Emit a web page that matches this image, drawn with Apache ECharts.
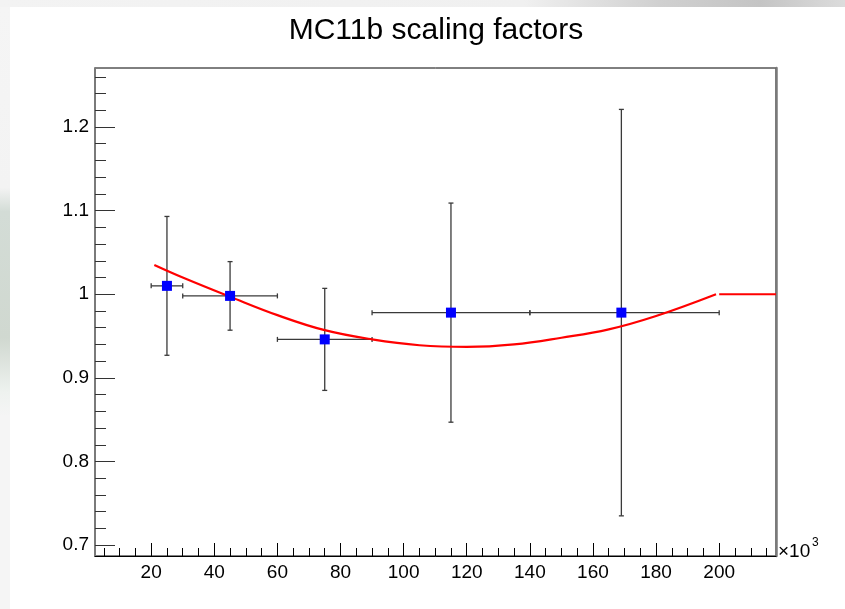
<!DOCTYPE html>
<html>
<head>
<meta charset="utf-8">
<script src="https://cdn.jsdelivr.net/npm/echarts@6.0.0/dist/echarts.min.js"></script>
<style>html,body{margin:0;padding:0;background:#fff;}#c{width:845px;height:609px;}</style>
</head>
<body>
<div id="c"></div>
<script>
// ---- data ----
const titleText = 'MC11b scaling factors';
const axisExpBase = '×10';
const axisExpPow = '3';
const xVals  = [25, 45, 75, 115, 169];
const yVals  = [1.010, 0.998, 0.946, 0.978, 0.978];
const xLow   = [20, 30, 60, 90, 140];
const xHigh  = [30, 60, 90, 140, 200];
const yErr   = [0.083, 0.041, 0.061, 0.131, 0.243];

const fitX = [21, 30, 45, 60, 75, 90, 105, 120, 135, 150, 165, 180, 199];
const fitY = [1.035, 1.020, 0.997, 0.975, 0.957, 0.946, 0.939, 0.937, 0.940, 0.948, 0.958, 0.974, 1.000];
const flatX = [200, 218];
const flatY = [1.000, 1.000];

const xMajor = [20, 40, 60, 80, 100, 120, 140, 160, 180, 200];
const xMinor = [5,10,15,25,30,35,45,50,55,65,70,75,85,90,95,105,110,115,125,130,135,145,150,155,165,170,175,185,190,195,205,210,215];
const yMajor = [0.7, 0.8, 0.9, 1.0, 1.1, 1.2];
const yMinor = [0.72,0.74,0.76,0.78,0.82,0.84,0.86,0.88,0.92,0.94,0.96,0.98,1.02,1.04,1.06,1.08,1.12,1.14,1.16,1.18,1.22,1.24,1.26];

// ---- build ----
const pts = xVals.map((x, i) => [x, yVals[i]]);
const errData = xVals.map((x, i) => [x, yVals[i], xLow[i], xHigh[i], yVals[i] - yErr[i], yVals[i] + yErr[i]]);
const fitData = fitX.map((x, i) => [x, fitY[i]]);
const flatData = flatX.map((x, i) => [x, flatY[i]]);

const FONT = '"Liberation Sans", Arial, Helvetica, sans-serif';
const XMIN = 2.2, XMAX = 218, YMIN = 0.687, YMAX = 1.2705;

const chart = echarts.init(document.getElementById('c'), null, {renderer: 'canvas'});
chart.setOption({
  animation: false,
  backgroundColor: '#ffffff',
  title: {
    text: titleText, left: 431, top: 11, textAlign: 'center',
    textStyle: {fontFamily: FONT, fontSize: 30, fontWeight: 'normal', color: '#000'}
  },
  graphic: [
    {type: 'rect', z: -10, shape: {x: 0, y: 0, width: 845, height: 7},
     style: {fill: new echarts.graphic.LinearGradient(0, 0, 1, 0, [
       {offset: 0, color: '#f3f3f3'}, {offset: 0.62, color: '#f0f0f0'},
       {offset: 0.78, color: '#d0d0d0'}, {offset: 0.9, color: '#c4c4c4'}, {offset: 1, color: '#dcdcdc'}])}},
    {type: 'rect', z: -10, shape: {x: 0, y: 7, width: 10, height: 602},
     style: {fill: new echarts.graphic.LinearGradient(0, 0, 0, 1, [
       {offset: 0, color: '#f5f5f5'}, {offset: 0.3, color: '#f3f3f3'},
       {offset: 0.34, color: '#d3dcd6'}, {offset: 0.55, color: '#d0d8d0'},
       {offset: 0.64, color: '#eef2ef'}, {offset: 0.68, color: '#f5f5f5'}, {offset: 1, color: '#f5f5f5'}])}},
    {type: 'text', x: 778, y: 542, z: 10,
     style: {text: axisExpBase, font: '19px "Liberation Sans", Arial, sans-serif', fill: '#000'}},
    {type: 'text', x: 812, y: 537, z: 10,
     style: {text: axisExpPow, font: '12px "Liberation Sans", Arial, sans-serif', fill: '#000'}}
  ],
  grid: {left: 95, right: 69, top: 68, bottom: 53, show: true, borderColor: '#000', borderWidth: 1, backgroundColor: 'transparent'},
  xAxis: [
    {type: 'value', min: XMIN, max: XMAX, position: 'bottom',
     axisLine: {show: true, lineStyle: {color: '#000', width: 1}},
     axisTick: {show: true, inside: true, length: 13, customValues: xMajor, lineStyle: {color: '#000', width: 1}},
     axisLabel: {show: true, customValues: xMajor, margin: 7, fontFamily: FONT, fontSize: 19, color: '#000'},
     splitLine: {show: false}},
    {type: 'value', min: XMIN, max: XMAX, position: 'bottom',
     axisLine: {show: false},
     axisTick: {show: true, inside: true, length: 8, customValues: xMinor, lineStyle: {color: '#000', width: 1}},
     axisLabel: {show: false, customValues: xMinor},
     splitLine: {show: false}}
  ],
  yAxis: [
    {type: 'value', min: YMIN, max: YMAX, position: 'left',
     axisLine: {show: true, lineStyle: {color: '#7a7a7a', width: 2}},
     axisTick: {show: true, inside: true, length: 20, customValues: yMajor, lineStyle: {color: '#333', width: 1}},
     axisLabel: {show: true, customValues: yMajor, margin: 6, fontFamily: FONT, fontSize: 19, color: '#000',
       formatter: v => String(parseFloat(v.toFixed(2)))},
     splitLine: {show: false}},
    {type: 'value', min: YMIN, max: YMAX, position: 'left',
     axisLine: {show: false},
     axisTick: {show: true, inside: true, length: 11, customValues: yMinor, lineStyle: {color: '#333', width: 1}},
     axisLabel: {show: false, customValues: yMinor},
     splitLine: {show: false}},
    {type: 'value', min: YMIN, max: YMAX, position: 'right',
     axisLine: {show: true, lineStyle: {color: '#7a7a7a', width: 2.5}},
     axisTick: {show: false}, axisLabel: {show: false}, splitLine: {show: false}}
  ],
  series: [
    {type: 'custom', xAxisIndex: 0, yAxisIndex: 0, data: errData, z: 3,
     renderItem: function (params, api) {
       const x = api.value(0), y = api.value(1);
       const pL = api.coord([api.value(2), y]);
       const pR = api.coord([api.value(3), y]);
       const pB = api.coord([x, api.value(4)]);
       const pT = api.coord([x, api.value(5)]);
       const st = {stroke: '#3a3a3a', lineWidth: 1.3};
       const c = 2.5;
       return {type: 'group', children: [
         {type: 'line', shape: {x1: pL[0], y1: pL[1], x2: pR[0], y2: pR[1]}, style: st},
         {type: 'line', shape: {x1: pB[0], y1: pB[1], x2: pT[0], y2: pT[1]}, style: st},
         {type: 'line', shape: {x1: pL[0], y1: pL[1] - c, x2: pL[0], y2: pL[1] + c}, style: st},
         {type: 'line', shape: {x1: pR[0], y1: pR[1] - c, x2: pR[0], y2: pR[1] + c}, style: st},
         {type: 'line', shape: {x1: pT[0] - c, y1: pT[1], x2: pT[0] + c, y2: pT[1]}, style: st},
         {type: 'line', shape: {x1: pB[0] - c, y1: pB[1], x2: pB[0] + c, y2: pB[1]}, style: st}
       ]};
     }},
    {type: 'line', xAxisIndex: 0, yAxisIndex: 0, data: fitData, smooth: 0.4, symbol: 'none', z: 4,
     lineStyle: {color: '#ff0000', width: 2.2}},
    {type: 'line', xAxisIndex: 0, yAxisIndex: 0, data: flatData, symbol: 'none', z: 4,
     lineStyle: {color: '#ff0000', width: 2.2}},
    {type: 'scatter', xAxisIndex: 0, yAxisIndex: 0, data: pts, symbol: 'rect', symbolSize: 10, z: 5,
     itemStyle: {color: '#0000ff', opacity: 1}}
  ]
});
</script>
</body>
</html>
